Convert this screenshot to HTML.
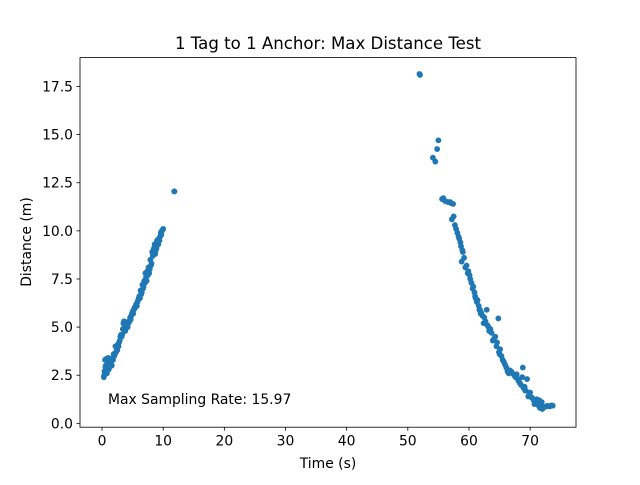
<!DOCTYPE html>
<html><head><meta charset="utf-8"><style>
body{margin:0;background:#fff}
svg text{font-family:"DejaVu Sans","Liberation Sans",sans-serif;fill:#000}
</style></head><body>
<svg id="chart" width="640" height="480" xmlns="http://www.w3.org/2000/svg">
<rect width="640" height="480" fill="#fff"/>
<text x="328" y="49" font-size="16.6" text-anchor="middle">1 Tag to 1 Anchor: Max Distance Test</text>
<g id="marks"></g>
<rect x="80" y="57.6" width="496" height="369.6" fill="none" stroke="#000" stroke-width="0.8"/>
<g id="xticks"></g>
<g id="yticks"></g>
<text x="328" y="468" font-size="13.9" text-anchor="middle">Time (s)</text>
<text transform="translate(31,242) rotate(-90)" font-size="13.9" text-anchor="middle">Distance (m)</text>
<text x="108" y="404" font-size="13.9">Max Sampling Rate: 15.97</text>
</svg>
<script>
const times=[0.3,0.4,0.5,0.6,0.7,0.8,1.0,1.1,1.2,1.4,1.6,1.8,2.0,2.2,2.3,2.5,2.6,2.8,3.0,3.3,3.5,3.6,3.8,4.0,4.3,4.5,4.6,5.0,5.3,5.5,5.6,6.0,6.1,6.3,6.6,6.9,7.0,7.1,7.4,7.6,7.7,7.9,8.2,8.4,8.5,8.6,9.0,9.3,9.6,9.9,11.8,11.85,
0.35,0.55,0.9,1.3,1.5,1.7,1.9,2.1,2.4,2.7,2.9,3.1,3.2,3.4,3.7,3.9,4.1,4.2,4.4,4.7,4.8,4.9,5.1,5.2,5.4,5.7,5.8,5.9,6.2,6.4,6.5,6.7,6.8,7.2,7.3,7.5,7.8,8.0,8.1,8.3,8.7,8.8,8.9,9.1,9.2,9.4,9.5,9.7,9.8,10.0,
51.9,52.0,55.0,54.8,54.1,54.5,55.8,56.9,57.4,57.5,57.2,57.9,58.3,58.6,59.0,58.8,59.4,59.8,60.2,60.6,61.0,61.3,61.6,62.0,62.9,64.8,62.4,63.5,64.3,64.6,65.1,65.0,65.9,66.5,67.8,68.8,68.1,69.5,68.9,70.0,69.7,71.1,71.6,71.9,72.7,73.5,70.7,62.5,63.2,61.8,66.9,67.4,70.4,72.2,73.0,
55.6,56.1,56.5,57.0,57.7,58.1,58.4,58.7,58.9,59.2,59.6,59.9,60.1,60.4,60.7,60.9,61.1,61.4,61.7,61.9,62.2,62.7,63.0,63.3,63.7,63.9,64.1,64.5,64.9,65.3,65.5,65.7,66.1,66.3,66.7,67.1,67.6,68.0,68.3,68.5,68.7,69.1,69.3,69.9,70.2,70.6,70.9,71.3,71.8,72.0,72.4,72.9,73.2,73.7,71.5,69.2];
const distances=[2.4,2.7,3.3,3.0,3.35,2.6,3.4,2.8,2.9,3.2,3.0,3.3,3.5,4.0,3.7,3.8,4.1,4.2,4.5,4.6,5.2,5.3,4.8,5.0,5.2,5.3,5.5,5.8,6.0,6.1,6.2,6.5,6.6,6.9,7.2,7.4,7.3,7.8,7.9,8.1,7.8,8.5,8.9,9.0,9.1,9.3,9.5,9.6,9.9,10.05,12.05,12.05,
2.5,2.9,3.1,3.0,3.2,3.4,3.6,3.6,3.9,4.0,4.3,4.6,4.5,4.9,5.1,5.0,5.1,5.0,5.3,5.4,5.6,5.7,5.7,5.9,6.0,6.1,6.3,6.4,6.5,6.7,6.8,7.0,7.1,7.6,7.4,7.7,8.0,8.2,8.3,8.7,8.8,9.0,9.1,9.4,9.3,9.5,9.7,9.8,10.0,10.1,
18.15,18.1,14.7,14.25,13.8,13.6,11.7,11.5,11.4,10.75,10.6,10.1,9.7,9.4,8.9,8.4,8.1,7.8,7.5,7.0,6.6,6.3,6.1,5.75,5.9,5.45,5.2,4.9,4.5,4.2,3.85,3.6,3.05,2.6,2.55,2.9,2.2,2.3,1.85,1.6,1.4,1.25,0.8,1.1,0.9,0.93,1.0,5.5,5.0,5.9,2.7,2.5,1.3,0.85,0.9,
11.65,11.55,11.5,11.45,10.3,9.9,9.6,9.2,9.0,8.6,8.2,7.9,7.7,7.3,7.1,6.8,6.5,6.4,5.9,5.7,5.6,5.3,5.1,4.8,4.7,4.3,4.4,4.0,3.7,3.5,3.3,3.2,2.9,2.7,2.75,2.6,2.4,2.3,2.1,2.0,2.4,1.9,1.7,1.55,1.35,1.2,1.05,0.95,0.9,0.75,0.85,0.9,0.88,0.92,1.2,1.7];
const xTicks=[0,10,20,30,40,50,60,70];
const yTicks=[0,2.5,5,7.5,10,12.5,15,17.5];
const yTickLabels=["0.0","2.5","5.0","7.5","10.0","12.5","15.0","17.5"];
const X0=-3.6,X1=77.5,Y0=-0.2,Y1=19.0;
const L=80,R=576,T=57.6,B=427.2;
const sx=v=>L+(v-X0)/(X1-X0)*(R-L);
const sy=v=>B-(v-Y0)/(Y1-Y0)*(B-T);
const NS="http://www.w3.org/2000/svg";
const marks=document.getElementById('marks');
times.forEach((t,i)=>{const c=document.createElementNS(NS,'circle');
c.setAttribute('cx',sx(t));c.setAttribute('cy',sy(distances[i]));c.setAttribute('r',2.9);c.setAttribute('fill','#1f77b4');


marks.appendChild(c);});
const xg=document.getElementById('xticks');
xTicks.forEach(v=>{const x=sx(v);
const l=document.createElementNS(NS,'line');l.setAttribute('x1',x);l.setAttribute('x2',x);l.setAttribute('y1',B);l.setAttribute('y2',B+3.5);l.setAttribute('stroke','#000');l.setAttribute('stroke-width','0.8');


xg.appendChild(l);
const t=document.createElementNS(NS,'text');t.setAttribute('x',x);t.setAttribute('y',B+18.5);t.setAttribute('font-size','13.9');t.setAttribute('text-anchor','middle');t.textContent=v;


xg.appendChild(t);});
const yg=document.getElementById('yticks');
yTicks.forEach((v,i)=>{const y=sy(v);
const l=document.createElementNS(NS,'line');l.setAttribute('x1',L-3.5);l.setAttribute('x2',L);l.setAttribute('y1',y);l.setAttribute('y2',y);l.setAttribute('stroke','#000');l.setAttribute('stroke-width','0.8');


yg.appendChild(l);
const t=document.createElementNS(NS,'text');t.setAttribute('x',L-7);t.setAttribute('y',y+5);t.setAttribute('font-size','13.9');t.setAttribute('text-anchor','end');t.textContent=yTickLabels[i];


yg.appendChild(t);});
</script>
</body></html>
